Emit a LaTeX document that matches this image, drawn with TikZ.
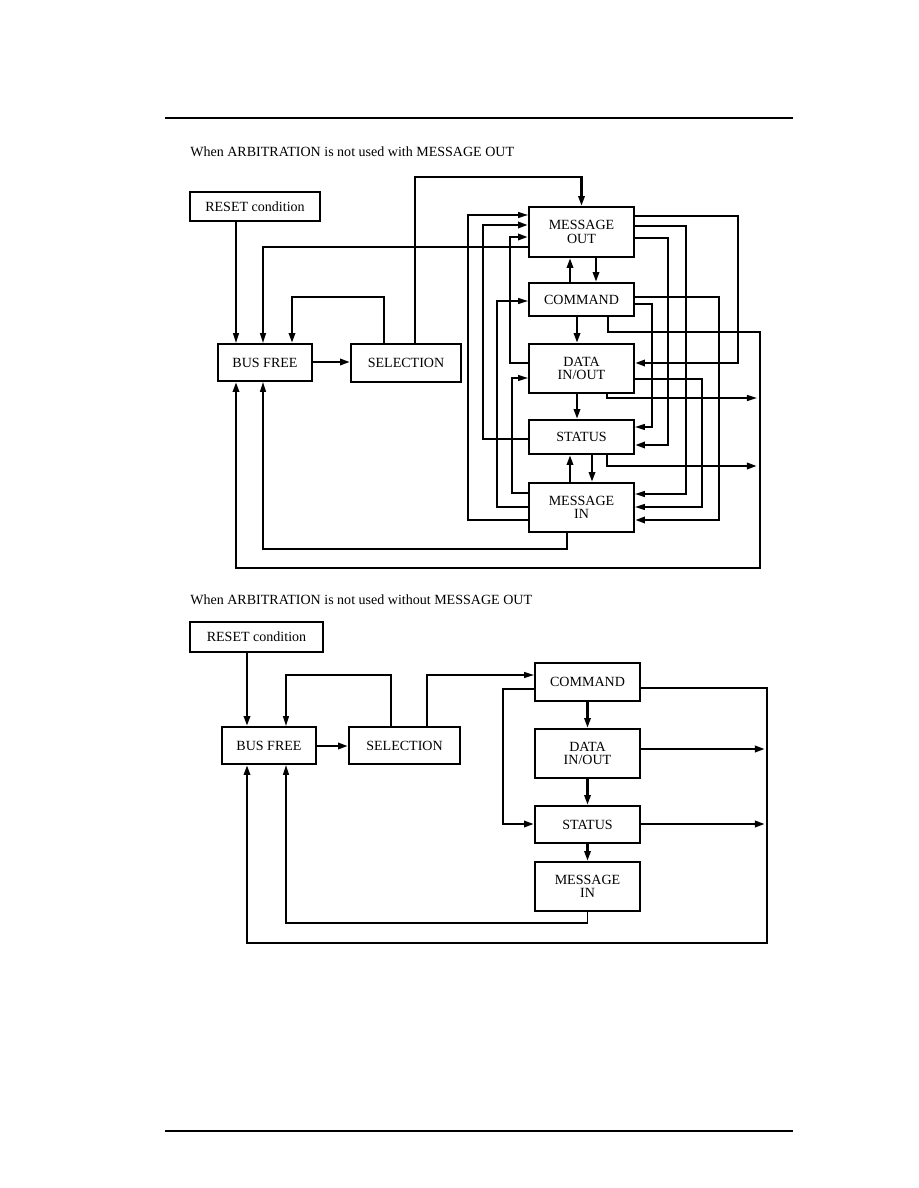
\documentclass[tikz,border=0pt]{standalone}
\usepackage{fontspec}
\setmainfont{Liberation Serif}
\usepackage{tikz}
\usetikzlibrary{arrows.meta, positioning, calc}

\begin{document}
\begin{tikzpicture}[x=0.6486pt, y=-0.6486pt,
    font=\fontsize{9.1}{8.8}\selectfont,
    box/.style={draw, line width=1.25pt, align=center, inner sep=0pt},
    thinline/.style={line width=1pt, -{Triangle[length=6.5pt,width=3.8pt]}},
    thickline/.style={line width=1.75pt, -{Triangle[length=6.5pt,width=4pt]}},
    plainline/.style={line width=0.9pt}]
    \useasboundingbox (0,0) rectangle (918,1188);

    % Page rules and headings
    \draw[plainline] (165,118) -- (793,118);
    \draw[plainline] (165,1131) -- (793,1131);
    \node[anchor=base west, inner sep=0pt] (title1) at (190,157) {When ARBITRATION is not used with MESSAGE OUT};
    \node[anchor=base west, inner sep=0pt] (title2) at (190,604) {When ARBITRATION is not used without MESSAGE OUT};

    % Upper diagram: boxes
    \node[box, minimum width=84.3pt, minimum height=18.8pt] (reset1) at (255,206.5) {RESET condition};
    \node[box, minimum width=61pt, minimum height=24pt] (busfree1) at (265,362.5) {BUS FREE};
    \node[box, minimum width=71.3pt, minimum height=24.6pt] (sel1) at (406,363) {SELECTION};
    \node[box, minimum width=68.1pt, minimum height=32.4pt] (msgout1) at (581.5,232) {MESSAGE\\OUT};
    \node[box, minimum width=68.1pt, minimum height=21.4pt] (cmd1) at (581.5,299.5) {COMMAND};
    \node[box, minimum width=68.1pt, minimum height=31.8pt] (data1) at (581.5,368.5) {DATA\\IN/OUT};
    \node[box, minimum width=68.1pt, minimum height=22pt] (status1) at (581.5,437) {STATUS};
    \node[box, minimum width=68.1pt, minimum height=31.8pt] (msgin1) at (581.5,507.5) {MESSAGE\\IN};
    \coordinate (out1) at (757,398);
    \coordinate (out2) at (757,466);

    % Upper diagram: left side
    \draw[thinline] (reset1.south -| 236,0) -- (busfree1.north -| 236,0);
    \draw[thinline] (msgout1.west |- 0,247) -| (busfree1.north -| 263,0);
    \draw[thickline] (sel1.north -| 384,0) |- (292,297) -- (busfree1.north -| 292,0);
    \draw[thickline] (busfree1.east |- 0,362) -- (sel1.west |- 0,362);
    \draw[thickline] (sel1.north -| 415,0) |- (581.5,177) -- (msgout1.north);
    \draw[thinline] (msgin1.west |- 0,520) -| (468,215) -- (msgout1.west |- 0,215);
    \draw[thickline] (status1.west |- 0,439) -| (483,225) -- (msgout1.west |- 0,225);
    \draw[thickline] (data1.west |- 0,363) -| (510,237) -- (msgout1.west |- 0,237);
    \draw[thinline] (msgin1.west |- 0,507) -| (497,301) -- (cmd1.west |- 0,301);
    \draw[thinline] (msgin1.west |- 0,493) -| (512,378) -- (data1.west |- 0,378);
    \draw[thinline] (msgin1.south -| 567,0) |- (263,549) -- (busfree1.south -| 263,0);
    \draw[thickline] (cmd1.south -| 608,0) |- (760,332) |- (236,568) -- (busfree1.south -| 236,0);

    % Upper diagram: between the boxes
    \draw[thickline] (cmd1.north -| 570,0) -- (msgout1.south -| 570,0);
    \draw[thickline] (msgout1.south -| 596,0) -- (cmd1.north -| 596,0);
    \draw[thickline] (cmd1.south -| 577,0) -- (data1.north -| 577,0);
    \draw[thickline] (data1.south -| 577,0) -- (status1.north -| 577,0);
    \draw[thickline] (msgin1.north -| 570,0) -- (status1.south -| 570,0);
    \draw[thickline] (status1.south -| 592,0) -- (msgin1.north -| 592,0);

    % Upper diagram: right side
    \draw[thickline] (msgout1.east |- 0,216) -| (738,363) -- (data1.east |- 0,363);
    \draw[thinline] (msgout1.east |- 0,226) -| (686,494) -- (msgin1.east |- 0,494);
    \draw[thickline] (msgout1.east |- 0,238) -| (668,445) -- (status1.east |- 0,445);
    \draw[thickline] (cmd1.east |- 0,297) -| (719,520) -- (msgin1.east |- 0,520);
    \draw[thinline] (cmd1.east |- 0,304) -| (652,427) -- (status1.east |- 0,427);
    \draw[thinline] (data1.east |- 0,379) -| (702,507) -- (msgin1.east |- 0,507);
    \draw[thinline] (data1.south -| 607,0) |- (out1);
    \draw[thickline] (status1.south -| 607,0) |- (out2);

    % Lower diagram: boxes
    \node[box, minimum width=86.3pt, minimum height=19.5pt] (reset2) at (256.5,637) {RESET condition};
    \node[box, minimum width=61pt, minimum height=24pt] (busfree2) at (269,745.5) {BUS FREE};
    \node[box, minimum width=72pt, minimum height=24pt] (sel2) at (404.5,745.5) {SELECTION};
    \node[box, minimum width=68.1pt, minimum height=24.6pt] (cmd2) at (587.5,682) {COMMAND};
    \node[box, minimum width=68.1pt, minimum height=31.8pt] (data2) at (587.5,753.5) {DATA\\IN/OUT};
    \node[box, minimum width=68.1pt, minimum height=24pt] (status2) at (587.5,824.5) {STATUS};
    \node[box, minimum width=68.1pt, minimum height=31.8pt] (msgin2) at (587.5,886.5) {MESSAGE\\IN};
    \coordinate (out3) at (765,749);
    \coordinate (out4) at (765,824);

    % Lower diagram: connectors
    \draw[thickline] (reset2.south -| 247,0) -- (busfree2.north -| 247,0);
    \draw[thinline] (sel2.north -| 391,0) |- (286,675) -- (busfree2.north -| 286,0);
    \draw[thinline] (sel2.north -| 427,0) |- (cmd2.west |- 0,675);
    \draw[thickline] (busfree2.east |- 0,746) -- (sel2.west |- 0,746);
    \draw[thickline] (cmd2) -- (data2);
    \draw[thickline] (data2) -- (status2);
    \draw[thickline] (status2) -- (msgin2);
    \draw[thickline] (cmd2.west |- 0,689) -| (503,824) -- (status2.west |- 0,824);
    \draw[thickline] (cmd2.east |- 0,688) -| (767,943) -| (busfree2.south -| 247,0);
    \draw[thickline] (data2.east |- 0,749) -- (out3);
    \draw[thickline] (status2.east |- 0,824) -- (out4);
    \draw[thinline] (msgin2.south) |- (286,923) -- (busfree2.south -| 286,0);
\end{tikzpicture}
\end{document}
